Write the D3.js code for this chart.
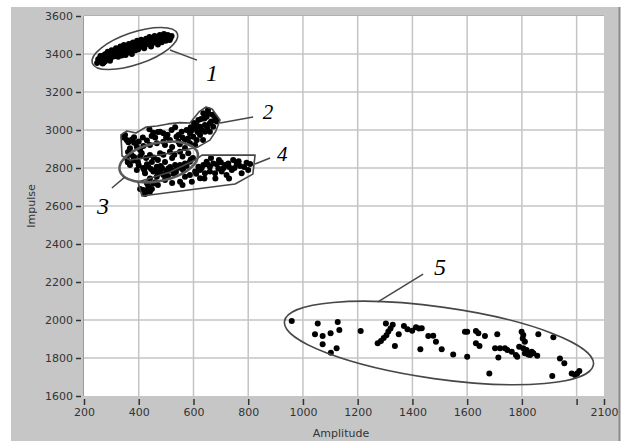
<!DOCTYPE html>
<html>
<head>
<meta charset="utf-8">
<script src="https://cdn.jsdelivr.net/npm/d3@7"></script>
<style>
  html, body { margin: 0; padding: 0; background: #fff; }
  svg { display: block; }
  .tick text { font-family: "DejaVu Sans", sans-serif; font-size: 11px; fill: #333; }
  .tick line { stroke: #333; stroke-width: 1.5; }
</style>
</head>
<body>
<svg id="chart" width="622" height="441"></svg>
<script>
/*
 * Data: [Amplitude, Impulse]
 */
var amplitudeDomain = [200, 2100],
    impulseDomain = [1600, 3600];

var xTickValues = [200, 400, 600, 800, 1000, 1200, 1400, 1600, 1800, 2000, 2100],
    xTickLabels = ['200', '400', '600', '800', '1000', '1200', '1400', '1600', '1800', '', '2100'],
    yTickValues = [1600, 1800, 2000, 2200, 2400, 2600, 2800, 3000, 3200, 3400, 3600],
    xGrid = [400, 600, 800, 1000, 1200, 1400, 1600, 1800, 2000],
    yGrid = [1800, 2000, 2200, 2400, 2600, 2800, 3000, 3200, 3400];

var group1 = [
  [248,3352],[255,3365],[258,3378],[263,3360],[266,3388],[270,3372],[274,3395],[277,3362],
  [281,3383],[285,3400],[288,3374],[292,3392],[296,3405],[299,3380],[303,3398],[307,3412],
  [311,3388],[315,3403],[319,3418],[323,3395],[327,3410],[331,3425],[336,3402],[340,3418],
  [344,3432],[349,3410],[354,3426],[358,3440],[362,3417],[367,3433],[372,3448],[377,3425],
  [382,3440],[386,3457],[391,3432],[396,3448],[401,3462],[407,3440],[412,3455],[418,3468],
  [424,3447],[430,3462],[436,3476],[442,3455],[448,3470],[454,3484],[461,3462],[467,3478],
  [474,3490],[481,3470],[488,3484],[495,3496],[502,3478],[509,3490],[516,3484],[268,3350],
  [295,3365],[352,3395],[420,3430],[470,3450],[252,3372],[260,3390],[272,3355],[279,3400],
  [287,3412],[294,3378],[301,3420],[309,3398],[317,3430],[325,3385],[333,3440],[338,3392],
  [346,3448],[356,3405],[364,3452],[370,3415],[379,3460],[388,3420],[394,3470],[403,3445],
  [409,3475],[415,3442],[427,3480],[433,3452],[439,3490],[451,3458],[458,3495],[463,3486],
  [477,3500],[484,3462],[492,3505],[499,3470],[506,3500],[513,3474],[520,3495],[445,3440],
  [398,3425],[375,3400]
];

var group2 = [
  [350,2974],[356,2947],[383,2962],[383,2933],[439,3004],[453,2986],[478,2991],[490,2983],
  [533,3014],[545,2974],[557,2991],[575,3000],[587,2983],[599,2965],[612,2947],[624,2974],
  [618,3053],[636,3088],[648,3070],[660,3035],[672,3017],[660,2991],[642,2991],[642,3026],
  [624,3017],[606,3009],[569,2947],[587,2930],[545,2938],[514,2947],[490,2938],[466,2930],
  [441,2921],[417,2916],[393,2912],[368,2904],[447,2968],[538,2965],[496,2921],[522,2910],
  [405,2895],[361,2884],[569,2905],[606,2921],[635,2947],[679,3063],[653,3105],[628,3058],
  [602,3037],[345,2960],[362,2935],[375,2950],[400,2940],[415,2960],[430,2945],[460,2960],
  [470,2990],[505,2975],[520,3000],[560,2960],[580,2955],[595,3000],[615,2990],[630,3000],
  [650,3010],[665,3045],[640,3060],[655,3085],[670,3080],[685,3045],[612,3025],[590,3015],
  [550,2925],[500,2960]
];

var group3 = [
  [356,2851],[374,2868],[411,2877],[393,2789],[423,2772],[435,2807],[453,2781],[466,2807],
  [478,2781],[490,2763],[508,2798],[520,2789],[533,2816],[551,2816],[569,2824],[587,2833],
  [441,2868],[478,2877],[514,2886],[551,2886],[581,2877],[441,2745],[466,2754],[368,2816],
  [397,2832],[416,2800],[448,2832],[470,2842],[496,2832],[522,2853],[536,2779],[562,2789],
  [598,2853],[427,2853],[383,2858],[485,2800],[507,2758],[360,2830],[380,2840],[400,2815],
  [420,2790],[430,2820],[445,2795],[460,2785],[470,2770],[480,2810],[500,2785],[515,2805],
  [527,2770],[540,2800],[555,2800],[575,2810],[590,2845],[405,2860],[455,2855],[490,2870],
  [530,2870],[560,2860]
];

var group4 = [
  [417,2684],[435,2702],[453,2719],[441,2675],[551,2728],[594,2728],[624,2746],[618,2807],
  [636,2816],[648,2833],[660,2807],[672,2824],[691,2798],[703,2781],[715,2816],[727,2824],
  [721,2763],[740,2789],[758,2824],[776,2772],[794,2828],[660,2781],[679,2772],[642,2772],
  [606,2781],[587,2763],[569,2754],[423,2663],[470,2710],[496,2737],[522,2721],[624,2789],
  [693,2842],[745,2842],[770,2810],[807,2821],[664,2853],[405,2690],[428,2680],[448,2690],
  [460,2725],[430,2720],[610,2770],[630,2800],[650,2820],[685,2820],[700,2830],[710,2800],
  [730,2805],[750,2800],[765,2835],[785,2805],[800,2790],[680,2745],[730,2745],[640,2745],
  [560,2710]
];

var group5 = [
  [959,1995],[1054,1982],[1127,1989],[1044,1925],[1072,1916],[1101,1930],[1133,1947],[1072,1872],
  [1123,1851],[1102,1828],[1211,1942],[1273,1877],[1303,1982],[1285,1890],[1295,1905],[1305,1920],
  [1312,1940],[1320,1955],[1328,1975],[1336,1863],[1350,1925],[1369,1968],[1382,1951],[1399,1944],
  [1413,1962],[1424,1955],[1434,1957],[1429,1846],[1458,1916],[1476,1917],[1486,1886],[1507,1846],
  [1549,1819],[1592,1938],[1600,1938],[1600,1807],[1632,1942],[1641,1930],[1632,1877],[1645,1863],
  [1665,1916],[1681,1719],[1710,1925],[1702,1851],[1720,1851],[1738,1851],[1747,1842],[1714,1802],
  [1763,1833],[1778,1816],[1783,1807],[1799,1938],[1805,1921],[1803,1903],[1811,1886],[1790,1859],
  [1805,1851],[1817,1842],[1811,1825],[1823,1819],[1836,1833],[1830,1816],[1856,1812],[1842,1825],
  [1860,1925],[1915,1909],[1939,1798],[1955,1772],[1911,1705],[1982,1719],[1994,1710],[2002,1719],
  [2010,1731]
];

// outlines drawn round the groups
var polygon2 = [
  [339,2863],[335,2974],[357,2995],[390,2984],[427,3016],[467,3021],[507,3032],[551,3039],
  [587,3037],[620,3095],[646,3121],[668,3111],[697,3053],[682,2995],[660,2947],[617,2911],
  [532,2884],[441,2858],[368,2842]
];
var polygon4 = [
  [631,2868],[825,2868],[817,2768],[752,2716],[412,2653],[397,2726],[514,2779],[606,2842]
];

var ellipses = [
  { id: 1, center: [386, 3429], rx: 45, ry: 16, angle: -19, width: 1.6 },
  { id: 3, center: [473, 2832], rx: 40, ry: 19, angle: -12, width: 2.6 },
  { id: 5, center: [1497, 1879], rx: 156, ry: 36, angle: 8, width: 1.6 }
];

var callouts = [
  { label: '1', from: [514, 3421], to: [613, 3368], at: [668, 3258], size: 24 },
  { label: '2', from: [697, 3037], to: [818, 3068], at: [872, 3058], size: 21 },
  { label: '3', from: [350, 2753], to: [302, 2695], at: [269, 2558], size: 24 },
  { label: '4', from: [825, 2821], to: [880, 2853], at: [924, 2837], size: 21 },
  { label: '5', from: [1274, 2095], to: [1439, 2242], at: [1501, 2237], size: 24 }
];

/*
 * Layout
 * */
var plotLeft = 84, plotRight = 604, plotTop = 16, plotBottom = 396,
    panelGray = '#c6c6c6',
    gridGray = '#c4c4c4',
    outline = '#474747';

var svg = d3.select('#chart');

var x = d3.scaleLinear().domain(amplitudeDomain).range([plotLeft, plotRight]);
var y = d3.scaleLinear().domain(impulseDomain).range([plotBottom, plotTop]);

// gray panel
svg.append('rect')
    .attr('x', 11).attr('y', 7)
    .attr('width', 609).attr('height', 434)
    .attr('fill', panelGray);
svg.append('line')
    .attr('x1', 619.5).attr('x2', 619.5).attr('y1', 7).attr('y2', 441)
    .attr('stroke', '#8a8a8a').attr('stroke-width', 2);

// plot area
svg.append('rect')
    .attr('x', plotLeft).attr('y', plotTop)
    .attr('width', plotRight - plotLeft).attr('height', plotBottom - plotTop)
    .attr('fill', '#fff');

// grid
svg.append('g').selectAll('line').data(xGrid).join('line')
    .attr('x1', function (d) { return x(d); })
    .attr('x2', function (d) { return x(d); })
    .attr('y1', plotTop).attr('y2', plotBottom)
    .attr('stroke', gridGray).attr('stroke-width', 1.5);
svg.append('g').selectAll('line').data(yGrid).join('line')
    .attr('y1', function (d) { return y(d); })
    .attr('y2', function (d) { return y(d); })
    .attr('x1', plotLeft).attr('x2', plotRight)
    .attr('stroke', gridGray).attr('stroke-width', 1.5);

// plot border
svg.append('line')
    .attr('x1', plotLeft - 0.5).attr('x2', plotLeft - 0.5)
    .attr('y1', plotTop).attr('y2', plotBottom)
    .attr('stroke', '#9a9a9a').attr('stroke-width', 1);
svg.append('line')
    .attr('x1', plotLeft).attr('x2', plotRight)
    .attr('y1', plotTop - 0.5).attr('y2', plotTop - 0.5)
    .attr('stroke', '#b0b0b0').attr('stroke-width', 1);

// axes
var yAxis = d3.axisLeft(y)
    .tickValues(yTickValues)
    .tickFormat(d3.format('d'))
    .tickSize(5)
    .tickPadding(3);
svg.append('g')
    .attr('transform', 'translate(' + (plotLeft - 3) + ',0)')
    .call(yAxis)
    .call(function (g) { g.select('.domain').remove(); });

var xAxis = d3.axisBottom(x)
    .tickValues(xTickValues)
    .tickFormat(function (d, i) { return xTickLabels[i]; })
    .tickSize(6)
    .tickPadding(3);
svg.append('g')
    .attr('transform', 'translate(0,' + (plotBottom + 3) + ')')
    .call(xAxis)
    .call(function (g) { g.select('.domain').remove(); });

// axis titles
svg.append('text')
    .attr('x', (plotLeft + plotRight) / 2 - 3)
    .attr('y', 437)
    .attr('text-anchor', 'middle')
    .attr('font-family', 'DejaVu Sans, sans-serif')
    .attr('font-size', 11)
    .attr('fill', '#333')
    .text('Amplitude');
svg.append('text')
    .attr('transform', 'translate(35,' + (plotTop + plotBottom) / 2 + ') rotate(-90)')
    .attr('text-anchor', 'middle')
    .attr('font-family', 'DejaVu Sans, sans-serif')
    .attr('font-size', 11)
    .attr('fill', '#333')
    .text('Impulse');

// points
var plot = svg.append('g');
[group1, group2, group3, group4, group5].forEach(function (group) {
    plot.append('g').selectAll('circle').data(group).join('circle')
        .attr('cx', function (d) { return x(d[0]); })
        .attr('cy', function (d) { return y(d[1]); })
        .attr('r', 3)
        .attr('fill', '#000');
});

// outlines
var line = d3.line()
    .x(function (d) { return x(d[0]); })
    .y(function (d) { return y(d[1]); })
    .curve(d3.curveLinearClosed);

[polygon2, polygon4].forEach(function (poly) {
    plot.append('path')
        .attr('d', line(poly))
        .attr('fill', 'none')
        .attr('stroke', outline)
        .attr('stroke-width', 1.6)
        .attr('stroke-linejoin', 'round');
});

ellipses.forEach(function (e) {
    plot.append('ellipse')
        .attr('transform', 'translate(' + x(e.center[0]) + ',' + y(e.center[1]) + ') rotate(' + e.angle + ')')
        .attr('rx', e.rx).attr('ry', e.ry)
        .attr('fill', 'none')
        .attr('stroke', e.id === 3 ? '#5a5a5a' : outline)
        .attr('stroke-width', e.width);
});

// numbered callouts
callouts.forEach(function (c) {
    plot.append('line')
        .attr('x1', x(c.from[0])).attr('y1', y(c.from[1]))
        .attr('x2', x(c.to[0])).attr('y2', y(c.to[1]))
        .attr('stroke', outline).attr('stroke-width', 1.5);
    plot.append('text')
        .attr('x', x(c.at[0])).attr('y', y(c.at[1]))
        .attr('text-anchor', 'middle')
        .attr('font-family', 'Liberation Serif, Times New Roman, serif')
        .attr('font-style', 'italic')
        .attr('font-size', c.size)
        .attr('fill', '#000')
        .text(c.label);
});
</script>
</body>
</html>
